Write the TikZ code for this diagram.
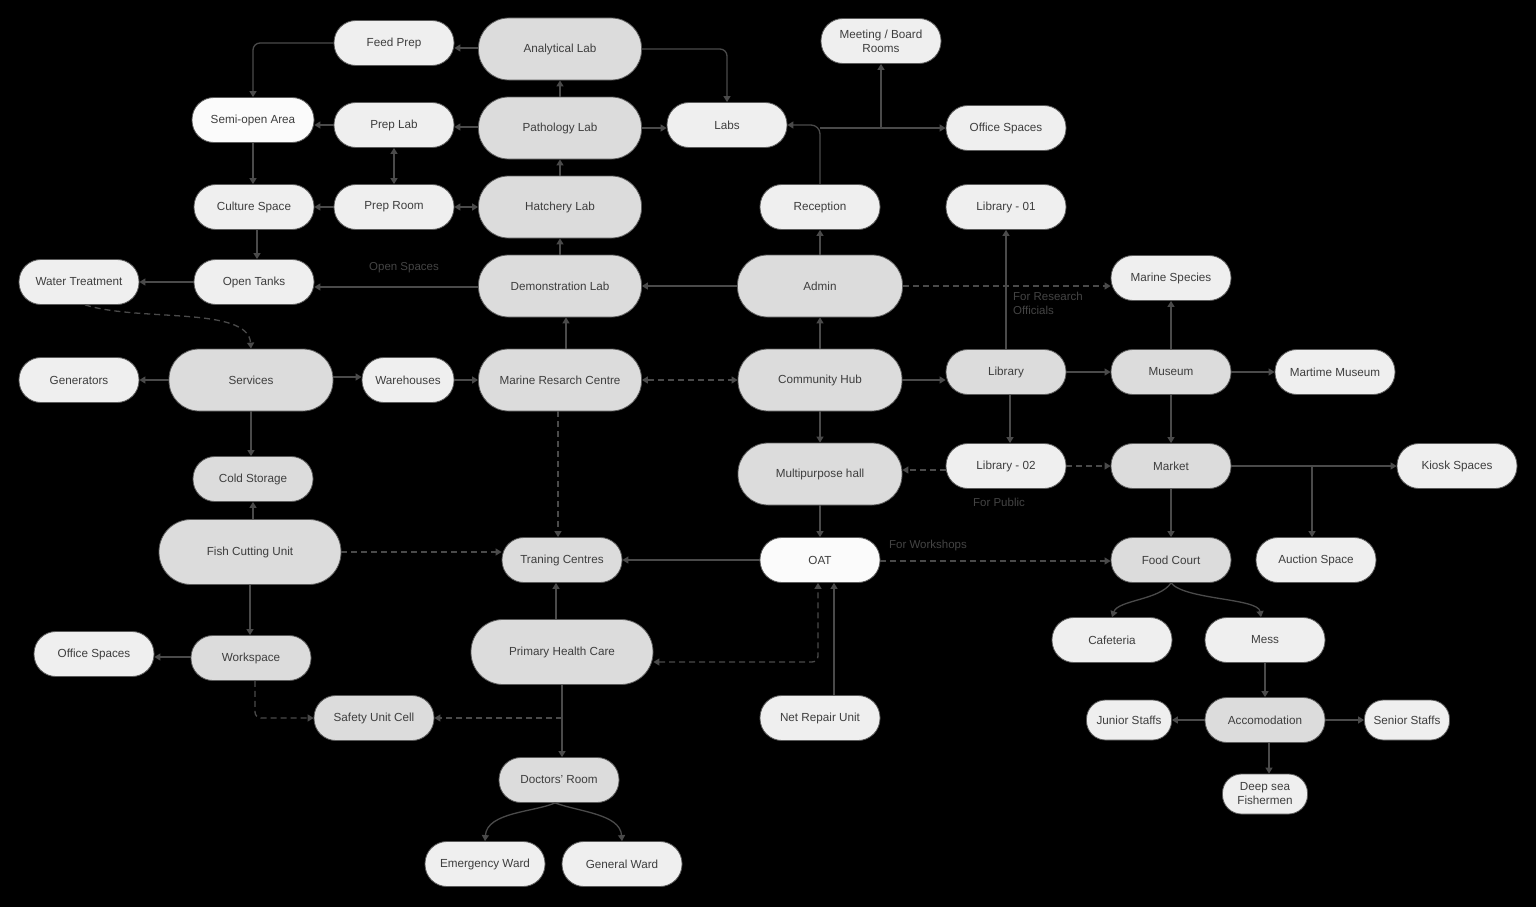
\documentclass[tikz,border=0pt]{standalone}
\usepackage{fontspec}
\setmainfont{Liberation Sans}
\usetikzlibrary{arrows.meta}
\definecolor{cLt}{HTML}{EFEFEF}
\definecolor{cDk}{HTML}{DCDCDC}
\definecolor{cWt}{HTML}{FBFBFB}
\definecolor{cEdge}{HTML}{4A4A4A}
\definecolor{cTxt}{HTML}{3E3E3E}
\definecolor{cLine}{HTML}{5A5A5A}
\definecolor{cLbl}{HTML}{444444}
\tikzset{
  nd/.style={draw=cLine, line width=0.8pt, text=cTxt, font=\fontsize{11.7}{14}\selectfont, inner sep=0pt, align=center},
  sm/.style={nd, minimum width=120pt, minimum height=45pt, rounded corners=22pt},
  lg/.style={nd, minimum width=163pt, minimum height=62pt, rounded corners=30pt},
  xl/.style={nd, minimum width=182pt, minimum height=65pt, rounded corners=32pt},
  ti/.style={nd, minimum width=85pt, minimum height=40pt, rounded corners=19pt},
  fl/.style={fill=cLt},
  fd/.style={fill=cDk},
  fw/.style={fill=cWt},
  arr/.style={draw=cEdge, line width=1.3pt, -{Triangle[width=7pt,length=6pt]}},
  barr/.style={draw=cEdge, line width=1.3pt, {Triangle[width=7pt,length=6pt]}-{Triangle[width=7pt,length=6pt]}},
  darr/.style={arr, dash pattern=on 6pt off 4pt},
  dbarr/.style={barr, dash pattern=on 6pt off 4pt},
  lab/.style={text=cLbl, font=\fontsize{11.5}{14}\selectfont, inner sep=0pt}
}
\begin{document}
\begin{tikzpicture}[x=1pt,y=-1pt]
\useasboundingbox (0,0) rectangle (1536,907);
\fill[black] (0,0) rectangle (1536,907);

% nodes
\node[sm,fl] (fp) at (394,43) {Feed Prep};
\node[lg,fd] (an) at (560,49) {Analytical Lab};
\node[sm,fl] (mtg) at (881,41) {Meeting / Board\\Rooms};
\node[sm,fw,minimum width=122pt] (semi) at (253,120) {Semi-open Area};
\node[sm,fl] (pl) at (394,125) {Prep Lab};
\node[lg,fd] (pa) at (560,128) {Pathology Lab};
\node[sm,fl] (labs) at (727,125) {Labs};
\node[sm,fl] (osa) at (1006,128) {Office Spaces};
\node[sm,fl] (cs) at (254,207) {Culture Space};
\node[sm,fl] (pr) at (394,207) {Prep Room};
\node[lg,fd] (ha) at (560,207) {Hatchery Lab};
\node[sm,fl] (rec) at (820,207) {Reception};
\node[sm,fl] (liba) at (1006,207) {Library - 01};
\node[sm,fl] (wtr) at (79,282) {Water Treatment};
\node[sm,fl] (ot) at (254,282) {Open Tanks};
\node[lg,fd] (demo) at (560,286) {Demonstration Lab};
\node[lg,fd,minimum width=165pt] (adm) at (820,286) {Admin};
\node[sm,fl] (ms) at (1171,278) {Marine Species};
\node[sm,fl] (gen) at (79,380) {Generators};
\node[lg,fd,minimum width=164pt] (svc) at (251,380) {Services};
\node[sm,fl,minimum width=92pt] (wh) at (408,380) {Warehouses};
\node[lg,fd] (mrc) at (560,380) {Marine Resarch Centre};
\node[lg,fd,minimum width=164pt] (hub) at (820,380) {Community Hub};
\node[sm,fd] (lib) at (1006,372) {Library};
\node[sm,fd] (mus) at (1171,372) {Museum};
\node[sm,fl] (mm) at (1335,372) {Martime Museum};
\node[sm,fd] (cold) at (253,479) {Cold Storage};
\node[lg,fd,minimum width=164pt] (mph) at (820,474) {Multipurpose hall};
\node[sm,fl] (libb) at (1006,466) {Library - 02};
\node[sm,fd] (mkt) at (1171,466) {Market};
\node[sm,fl] (kiosk) at (1457,466) {Kiosk Spaces};
\node[xl,fd] (fcu) at (250,552) {Fish Cutting Unit};
\node[sm,fd] (tc) at (562,560) {Traning Centres};
\node[sm,fw] (oat) at (820,560) {OAT};
\node[sm,fd] (fc) at (1171,560) {Food Court};
\node[sm,fl] (auc) at (1316,560) {Auction Space};
\node[sm,fl] (osb) at (94,654) {Office Spaces};
\node[sm,fd] (ws) at (251,658) {Workspace};
\node[xl,fd] (phc) at (562,652) {Primary Health Care};
\node[sm,fl] (caf) at (1112,640) {Cafeteria};
\node[sm,fl] (mess) at (1265,640) {Mess};
\node[sm,fd] (suc) at (374,718) {Safety Unit Cell};
\node[sm,fl] (nru) at (820,718) {Net Repair Unit};
\node[ti,fl] (jun) at (1129,720) {Junior Staffs};
\node[sm,fd] (acc) at (1265,720) {Accomodation};
\node[ti,fl] (sen) at (1407,720) {Senior Staffs};
\node[ti,fl] (ds) at (1265,794) {Deep sea\\Fishermen};
\node[sm,fd] (doc) at (559,780) {Doctors' Room};
\node[sm,fl] (er) at (485,864) {Emergency Ward};
\node[sm,fl] (gw) at (622,864) {General Ward};

% labels
\node[lab] (lOS) at (404,268) {Open Spaces};
\node[lab, anchor=north west, align=left] (lFR) at (1013,292) {For Research\\Officials};
\node[lab] (lFP) at (999,502) {For Public};
\node[lab] (lFW) at (928,546) {For Workshops};

% edges: lab cluster
\draw[arr] (an.west |- 0,48) -- (fp.east |- 0,48);
\draw[arr, rounded corners=7pt] (fp.west) -| (semi.north);
\draw[arr, rounded corners=7pt] (an.east) -| (labs.north);
\draw[arr] (pa.north) -- (an.south);
\draw[arr] (ha.north) -- (pa.south);
\draw[arr] (demo.north) -- (ha.south);
\draw[arr] (pa.west |- 0,127) -- (pl.east |- 0,127);
\draw[arr] (pa.east |- 0,128) -- (labs.west |- 0,128);
\draw[arr] (pl.west) -- (semi.east |- pl.west);
\draw[barr] (pl.south) -- (pr.north);
\draw[arr] (pr.west) -- (cs.east);
\draw[barr] (pr.east) -- (ha.west);
\draw[arr] (semi.south) -- (semi.south |- cs.north);
\draw[arr] ([xshift=3pt]cs.south) -- ([xshift=3pt]cs.south |- ot.north);
\draw[arr] (demo.west |- 0,287) -- (ot.east |- 0,287);
\draw[arr] (ot.west) -- (wtr.east);
\draw[darr] ([xshift=6pt]wtr.south) .. controls (140,322) and (248,306) .. (svc.north);

% admin cluster
\draw[arr] (adm.west) -- (demo.east);
\draw[arr] (adm.north) -- (rec.south);
\draw[arr, rounded corners=9pt] (rec.north) |- (labs.east);
\draw[arr] (rec.north |- osa.west) -- (osa.west);
\draw[arr] (mtg.south |- osa.west) -- (mtg.south);
\draw[darr] (adm.east) -- (adm.east -| ms.west);
\draw[arr] (lib.north) -- (liba.south);
\draw[arr] (hub.north) -- (adm.south);
\draw[arr] ([xshift=6pt]mrc.north) -- ([xshift=6pt]demo.south);

% services row
\draw[arr] (svc.west) -- (gen.east);
\draw[arr] ([yshift=3pt]svc.east) -- (wh.west |- 0,377);
\draw[arr] (wh.east) -- (mrc.west |- wh.east);
\draw[dbarr] (mrc.east) -- (hub.west);
\draw[arr] (hub.east) -- (hub.east -| lib.west);
\draw[arr] (lib.east) -- (mus.west);
\draw[arr] (mus.north) -- (ms.south);
\draw[arr] (mus.east) -- (mm.west);
\draw[arr] ([xshift=4pt]lib.south) -- ([xshift=4pt]libb.north);
\draw[arr] (mus.south) -- (mkt.north);
\draw[arr] (hub.south) -- (mph.north);
\draw[darr] (libb.west |- 0,470) -- (mph.east |- 0,470);
\draw[darr] (libb.east) -- (mkt.west);
\draw[arr] (mkt.east) -- (kiosk.west);
\draw[arr] ([xshift=-4pt]auc.north |- mkt.east) -- ([xshift=-4pt]auc.north);
\draw[arr] (mkt.south) -- (fc.north);

% lower left
\draw[arr] (svc.south) -- (svc.south |- cold.north);
\draw[arr] ([xshift=3pt]fcu.north) -- (cold.south);
\draw[darr] (fcu.east) -- (fcu.east -| tc.west);
\draw[darr] ([xshift=-2pt]mrc.south) -- ([xshift=-2pt]mrc.south |- tc.north);
\draw[arr] (mph.south) -- (oat.north);
\draw[arr] (oat.west) -- (tc.east);
\draw[darr] ([yshift=-1pt]oat.east) -- ([yshift=-1pt]oat.east -| fc.west);
\draw[arr] (fcu.south) -- (fcu.south |- ws.north);
\draw[arr] (ws.west |- 0,657) -- (osb.east |- 0,657);
\draw[darr, rounded corners=6pt] ([xshift=4pt]ws.south) |- (suc.west);
\draw[arr] ([xshift=-6pt]phc.north) -- ([xshift=-6pt]phc.north |- tc.south);
\draw[dbarr, rounded corners=6pt] ([yshift=-10pt]phc.east) -| ([xshift=-2pt]oat.south);
\draw[arr] ([xshift=14pt]nru.north) -- ([xshift=14pt]oat.south);
\draw[arr] (phc.south) -- (phc.south |- doc.north);
\draw[darr] (phc.south |- suc.east) -- (suc.east);
\draw[arr] ([xshift=-4pt]doc.south) .. controls (535,812) and (487,812) .. (er.north);
\draw[arr] ([xshift=-4pt]doc.south) .. controls (580,812) and (620,814) .. (gw.north);

% food court cluster
\draw[arr] (fc.south) .. controls (1160,600) and (1118,600) .. (caf.north);
\draw[arr] (fc.south) .. controls (1185,600) and (1258,598) .. ([xshift=-4pt]mess.north);
\draw[arr] (mess.south) -- (acc.north);
\draw[arr] (acc.west) -- (jun.east);
\draw[arr] (acc.east) -- (sen.west);
\draw[arr] ([xshift=4pt]acc.south) -- ([xshift=4pt]ds.north);
\end{tikzpicture}
\end{document}
